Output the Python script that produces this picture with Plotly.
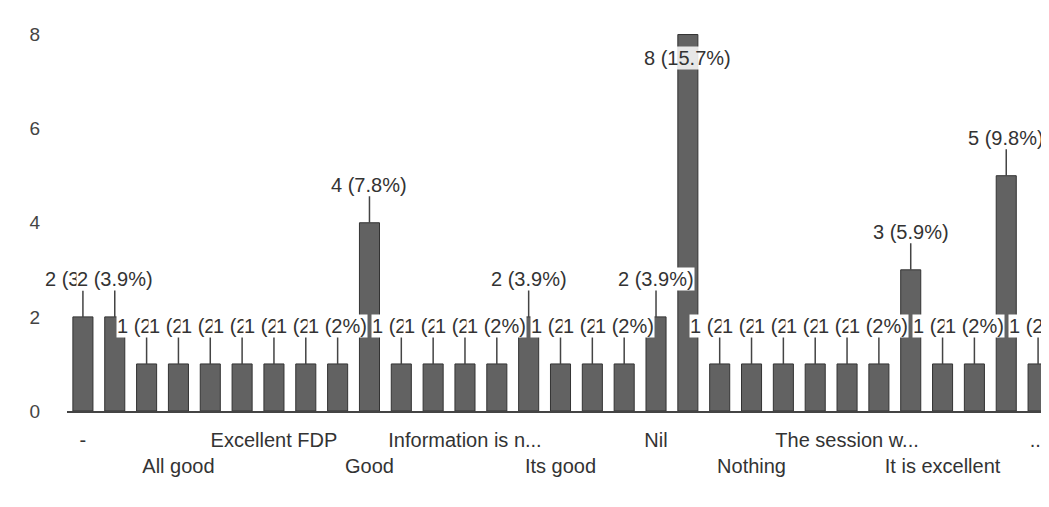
import plotly.graph_objects as go

# --- data ---
values = [2, 2, 1, 1, 1, 1, 1, 1, 1, 4, 1, 1, 1, 1, 2, 1, 1, 1, 2, 8,
          1, 1, 1, 1, 1, 1, 3, 1, 1, 5, 1]
tick_index = [0, 3, 6, 9, 12, 15, 18, 21, 24, 27, 30]
tick_labels = ["-", "All good", "Excellent FDP", "Good", "Information is n...",
               "Its good", "Nil", "Nothing", "The session w...",
               "It is excellent", "..."]
y_ticks = [0, 2, 4, 6, 8]

total = sum(values)
x = list(range(len(values)))
y_max = 8.5

FONT = "Liberation Sans, Arial, sans-serif"
TXT = "#333333"

fig = go.Figure()
fig.add_trace(go.Bar(
    x=x, y=values,
    marker=dict(color="#626262", line=dict(color="#333333", width=1)),
    hoverinfo="skip",
))

# value labels (white-backed, overlapping like the original)
for xi, v in zip(x, values):
    pct = 100 * v / total
    pct_s = f"{pct:.1f}".rstrip("0").rstrip(".")
    label = f"{v} ({pct_s}%)"
    if v + 1.0 > y_max:
        fig.add_annotation(x=xi, y=v - 0.5, text=label, showarrow=False,
                           font=dict(family=FONT, size=20, color=TXT),
                           bgcolor="rgba(255,255,255,0.85)", borderpad=0)
    else:
        fig.add_annotation(x=xi, y=v, text=label, showarrow=True,
                           ax=0, ay=-38, arrowhead=0, arrowwidth=1.5,
                           arrowcolor="#444444", standoff=0,
                           font=dict(family=FONT, size=20, color=TXT),
                           bgcolor="white", borderpad=0)

ticktext = [lab if i % 2 == 0 else "<br>" + lab for i, lab in enumerate(tick_labels)]

fig.update_layout(
    width=1049, height=507,
    margin=dict(l=59, r=3, t=3, b=104),
    paper_bgcolor="white", plot_bgcolor="white",
    bargap=0.37,
    showlegend=False,
    font=dict(family=FONT, size=20, color=TXT),
    xaxis=dict(
        range=[-0.5, len(values) - 0.5],
        tickmode="array", tickvals=tick_index, ticktext=ticktext,
        tickangle=0,
        showgrid=False, zeroline=False,
        showline=True, linecolor="#444444", linewidth=2,
        ticks="", ticklabelstandoff=10,
        tickfont=dict(family=FONT, size=20, color=TXT),
    ),
    yaxis=dict(
        range=[0, y_max],
        tickmode="array", tickvals=y_ticks,
        showgrid=False, zeroline=False, showline=False,
        ticks="", ticklabelstandoff=26,
        tickfont=dict(family=FONT, size=19, color="#444444"),
    ),
)

fig.write_html("out.html")
